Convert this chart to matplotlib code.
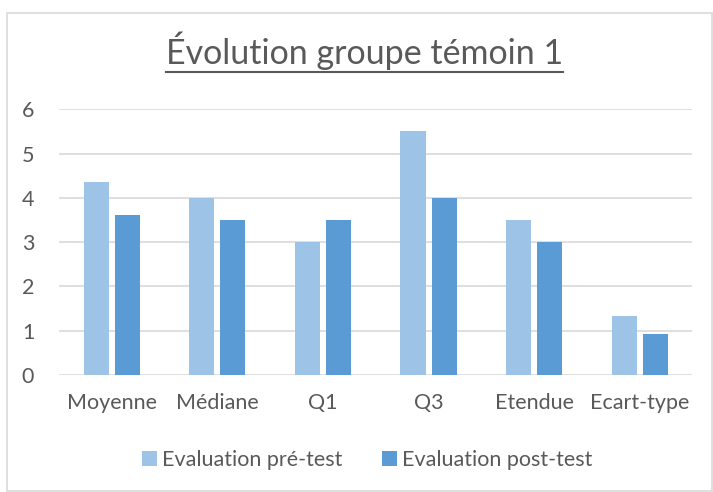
import numpy as np
import matplotlib
matplotlib.use("Agg")
import matplotlib.pyplot as plt
from matplotlib.patches import Rectangle
from matplotlib.lines import Line2D

# Data
categories = ["Moyenne", "Médiane", "Q1", "Q3", "Etendue", "Ecart-type"]
pre_test = [4.35, 4.0, 3.0, 5.5, 3.5, 1.32]
post_test = [3.62, 3.5, 3.5, 4.0, 3.0, 0.92]
series_names = ["Evaluation pré-test", "Evaluation post-test"]

plt.rcParams["font.family"] = ["Lato", "DejaVu Sans"]
grey = "#595959"

fig = plt.figure(figsize=(7.13, 4.92), dpi=100)
ax = fig.add_axes([0.083, 0.238, 0.888, 0.540])

x = np.arange(len(categories))
w = 0.237
ax.bar(x - 0.147, pre_test, w, color="#9dc3e6", label=series_names[0], zorder=3)
ax.bar(x + 0.147, post_test, w, color="#5b9bd5", label=series_names[1], zorder=3)

ax.set_xlim(-0.5, len(categories) - 0.5)
ax.set_ylim(0, 6)
ax.set_yticks(range(0, 7))
ax.set_xticks(x)
ax.set_xticklabels(categories)
ax.grid(axis="y", color="#d9d9d9", linewidth=1.2, zorder=0)
for s in ax.spines.values():
    s.set_visible(False)
ax.tick_params(axis="both", length=0, labelsize=15.5, colors=grey)
ax.tick_params(axis="y", pad=18)
ax.tick_params(axis="x", pad=13)

# title with underline
title = fig.text(0.511, 0.870, "Évolution groupe témoin 1", ha="center", va="baseline",
                 fontsize=24.5, color=grey)
fig.canvas.draw()
bb = title.get_window_extent().transformed(fig.transFigure.inverted())
uy = 0.870 - 8 / 492
fig.add_artist(Line2D([bb.x0, bb.x1], [uy, uy],
                      color=grey, linewidth=1.5, transform=fig.transFigure))

fig.legend(loc="center", bbox_to_anchor=(0.515, 0.065), ncol=2, frameon=False,
           fontsize=15.5, labelcolor=grey, handlelength=0.7, handleheight=0.7,
           handletextpad=0.25, columnspacing=1.8)

# chart frame
fig.add_artist(Rectangle((0.010, 0.002), 0.988, 0.972, transform=fig.transFigure,
                         fill=False, edgecolor="#d9d9d9", linewidth=1.2))

plt.savefig("out.png", dpi=100)
